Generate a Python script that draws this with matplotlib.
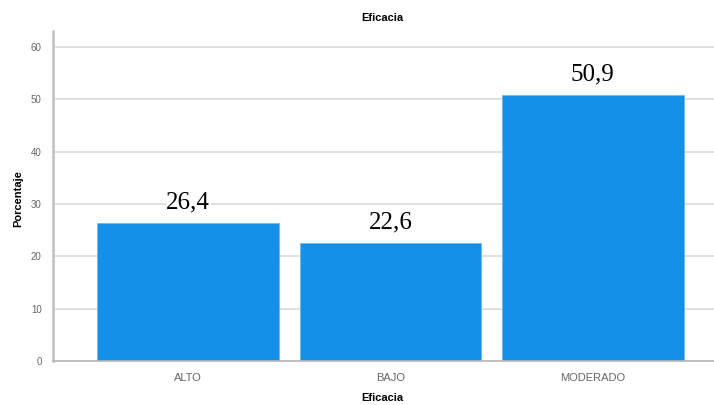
import matplotlib.pyplot as plt

plt.rcParams['font.family'] = ['Liberation Sans', 'DejaVu Sans']

# Data
categories = ['ALTO', 'BAJO', 'MODERADO']
values = [26.4, 22.6, 50.9]
value_labels = ['26,4', '22,6', '50,9']
yticks = [0, 10, 20, 30, 40, 50, 60]

fig = plt.figure(figsize=(7.14, 4.05), dpi=100)
ax = fig.add_axes([0.074, 0.109, 0.926, 0.814])

x = range(len(categories))
ax.bar(x, values, width=0.9, color='#1490e6', edgecolor='#6bb8f0', linewidth=0.6, zorder=2)

ax.set_xlim(-0.67, 2.6)
ax.set_ylim(0, 63)
ax.set_yticks(yticks)
ax.set_yticklabels([str(t) for t in yticks])
ax.set_xticks(list(x))
ax.set_xticklabels(categories)
ax.tick_params(axis='both', colors='#b0b0b0', labelcolor='#666666', labelsize=7, length=0)
ax.tick_params(axis='x', labelsize=8, pad=9)
ax.tick_params(axis='y', pad=8)
ax.yaxis.grid(True, color='#dcdcdc', linewidth=1.2, zorder=0)
ax.set_axisbelow(True)

for s in ['top', 'right']:
    ax.spines[s].set_visible(False)
ax.spines['left'].set_color('#c0c0c0')
ax.spines['left'].set_linewidth(1.8)
ax.spines['bottom'].set_color('#b8b8b8')
ax.spines['bottom'].set_linewidth(1.2)

# value labels above the bars
for xi, v, lab in zip(x, values, value_labels):
    ax.text(xi, v + 2.7, lab, ha='center', va='baseline', fontsize=18,
            family='Liberation Serif', color='black',
            bbox=dict(facecolor='white', edgecolor='none', pad=0.5), zorder=3)

fig.text(0.536, 0.955, 'Eficacia', ha='center', va='center', fontsize=8, fontweight='bold')
fig.text(0.536, 0.004, 'Eficacia', ha='center', va='bottom', fontsize=8, fontweight='bold')
fig.text(0.025, 0.51, 'Porcentaje', ha='center', va='center', rotation=90,
         fontsize=8, fontweight='bold')

fig.savefig('out.png', dpi=100)
